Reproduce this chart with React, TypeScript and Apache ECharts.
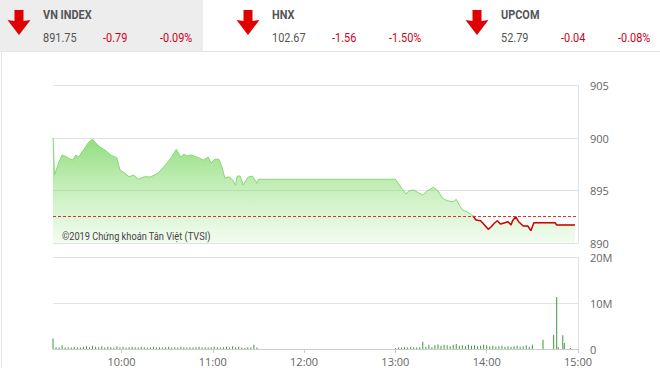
import React, { useEffect, useRef } from "react";
import * as echarts from "echarts";

// ---- Header data ----
const indexNames = ["VN INDEX", "HNX", "UPCOM"];
const indexValues = ["891.75", "102.67", "52.79"];
const indexChanges = ["-0.79", "-1.56", "-0.04"];
const indexPercents = ["-0.09%", "-1.50%", "-0.08%"];

// ---- Price series (VN-Index intraday) ----
const referencePrice = 892.54;
const priceTimes = [
  "09:15", "09:16", "09:19", "09:21", "09:24", "09:26", "09:28", "09:30", "09:32", "09:34",
  "09:36", "09:38", "09:41", "09:43", "09:46", "09:50", "09:53", "09:57", "09:59", "10:02",
  "10:05", "10:08", "10:11", "10:15", "10:19", "10:24", "10:26", "10:30", "10:33", "10:36",
  "10:39", "10:41", "10:43", "10:46", "10:50", "10:54", "10:57", "10:59", "11:01", "11:04",
  "11:06", "11:08", "11:11", "11:13", "11:15", "11:16", "11:18", "11:20", "11:23", "11:26",
  "11:29", "11:30", "13:00", "13:05", "13:07", "13:09", "13:12", "13:15", "13:18", "13:21",
  "13:25", "13:28", "13:31", "13:34", "13:38", "13:40", "13:42", "13:44", "13:47", "13:51",
  "13:53", "13:56", "13:58", "14:01", "14:03", "14:05", "14:07", "14:09", "14:12", "14:14",
  "14:16", "14:17", "14:19", "14:21", "14:24", "14:27", "14:29", "14:31", "14:45", "14:46",
  "14:58",
];
const priceValues = [
  900.03, 896.48, 897.74, 898.38, 898.19, 898.0, 897.9, 898.38, 898.19, 898.67,
  899.05, 899.52, 899.9, 899.52, 899.14, 898.76, 898.38, 898.1, 896.95, 896.67,
  896.31, 896.48, 896.07, 896.31, 896.29, 896.64, 896.95, 897.62, 898.19, 898.92,
  898.16, 898.48, 898.29, 898.38, 898.16, 897.9, 898.19, 897.59, 897.97, 897.97,
  897.27, 896.16, 896.31, 896.0, 895.52, 896.38, 896.38, 895.52, 896.26, 896.38,
  895.69, 896.07, 896.07, 895.05, 894.67, 894.98, 895.05, 894.79, 894.57, 894.98,
  895.3, 894.98, 894.26, 894.03, 893.93, 894.16, 893.62, 893.14, 892.98, 892.57,
  892.19, 892.12, 891.81, 891.3, 891.55, 891.88, 892.12, 891.81, 891.93, 892.03,
  891.71, 892.12, 892.5, 892.03, 891.62, 891.62, 891.17, 891.93, 891.93, 891.71,
  891.71,
];
const redStartTime = "13:51";

// ---- Volume series (millions of shares) ----
const volMorningStart = "09:15";
const volStepMinutes = 2;
const volMorning = [
  2.3, 0.4, 0.3, 0.8, 0.3, 0.4, 0.3, 0.5, 0.4, 0.3,
  0.5, 0.6, 0.4, 0.7, 0.5, 0.4, 0.6, 0.3, 0.5, 0.4,
  0.3, 0.6, 0.4, 0.5, 0.3, 0.4, 0.5, 0.4, 0.3, 0.5,
  0.4, 0.3, 0.4, 0.5, 0.3, 0.4, 0.3, 0.4, 0.5, 0.3,
  0.4, 0.3, 0.5, 0.4, 0.3, 0.4, 0.3, 0.4, 0.5, 0.3,
  0.4, 0.3, 0.4, 0.5, 0.4, 0.3, 0.4, 0.5, 0.3, 0.6,
  0.4, 0.5, 0.3, 0.2, 0.4, 0.3, 0.9, 0.3,
];
const volAfternoonStart = "13:00";
const volAfternoon = [
  0.2, 0.3, 0.3, 0.4, 0.3, 0.5, 0.4, 0.3, 0.4, 1.6,
  0.5, 0.9, 0.4, 0.8, 1.0, 0.7, 0.9, 0.8, 0.6, 0.9,
  1.1, 0.7, 0.8, 0.6, 0.9, 0.7, 0.8, 0.6, 0.7, 0.9,
  0.8, 0.6, 0.7, 0.5, 0.6, 0.7, 0.5, 0.6, 0.5, 0.6,
  0.7, 0.5, 0.6, 0.8, 0.5, 0.9,
];
const volLateTimes = ["14:37", "14:44", "14:46", "14:47", "14:50", "14:51", "14:55"];
const volLate = [2.0, 3.1, 11.3, 0.4, 3.0, 1.3, 0.2];

// ---- Axis ticks ----
const timeTicks = ["10:00", "11:00", "12:00", "13:00", "14:00", "15:00"];
const axisStart = "09:15";
const axisEnd = "15:00";

const toMin = (s: string) => {
  const [h, m] = s.split(":").map(Number);
  return h * 60 + m;
};
const fmtMin = (v: number) => {
  const h = Math.floor(v / 60);
  const m = Math.round(v % 60);
  return (h < 10 ? "0" : "") + h + ":" + (m < 10 ? "0" : "") + m;
};

const NARROW = "Roboto, 'Noto Sans', sans-serif";

export default function App() {
  const ref = useRef<HTMLDivElement>(null);

  useEffect(() => {
    if (!ref.current) return;
    const chart = echarts.init(ref.current, null, { renderer: "svg" });

    const priceData = priceTimes.map((t, i) => [toMin(t), priceValues[i]]);
    const redIdx = priceTimes.indexOf(redStartTime);
    const redData = priceData.slice(redIdx);

    const volData: number[][] = [];
    volMorning.forEach((v, i) => volData.push([toMin(volMorningStart) + i * volStepMinutes, v]));
    volAfternoon.forEach((v, i) => volData.push([toMin(volAfternoonStart) + i * volStepMinutes, v]));
    volLate.forEach((v, i) => volData.push([toMin(volLateTimes[i]), v]));

    const tickVals = timeTicks.map(toMin);

    const narrowText = (x: number, y: number, text: string, fill: string, font: string, z = 1) => ({
      type: "text", x, y, scaleX: 0.84, z,
      style: { text, fill, font, textVerticalAlign: "middle" },
      silent: true,
    });

    // header graphics
    const panelX = [0, 229, 458];
    const header: any[] = [
      { type: "rect", shape: { x: 0, y: 0, width: 203, height: 51 }, style: { fill: "#ededed" }, silent: true },
      { type: "line", shape: { x1: 0, y1: 51.5, x2: 660, y2: 51.5 }, style: { stroke: "#e4e4e4", lineWidth: 1 }, silent: true },
      { type: "line", shape: { x1: 1.5, y1: 51.5, x2: 1.5, y2: 368 }, style: { stroke: "#e4e4e4", lineWidth: 1 }, silent: true },
    ];
    indexNames.forEach((name, i) => {
      const ox = panelX[i];
      const ax = ox + 19;
      header.push({
        type: "polygon",
        shape: {
          points: [
            [ax - 4.5, 10], [ax + 4.5, 10], [ax + 4.5, 21], [ax + 11.5, 20],
            [ax, 35], [ax - 11.5, 20], [ax - 4.5, 21],
          ],
        },
        style: { fill: "#e00000" },
        silent: true,
      });
      header.push(narrowText(ox + 43, 15, name, "#555555", "bold 13px " + NARROW));
      header.push(narrowText(ox + 43, 38, indexValues[i], "#555555", "13px " + NARROW));
      header.push(narrowText(ox + 103, 38, indexChanges[i], "#d0021b", "13px " + NARROW));
      header.push(narrowText(ox + 160, 38, indexPercents[i], "#d0021b", "13px " + NARROW));
    });
    header.push(narrowText(62, 236, "©2019 Chứng khoán Tân Việt (TVSI)", "#444444", "11px " + NARROW, 10));

    const gridLineColor = "#e2e2e2";
    chart.setOption({
      animation: false,
      backgroundColor: "#ffffff",
      grid: [
        { left: 53, right: 82, top: 85.5, height: 157.5 },
        { left: 53, right: 82, top: 257, height: 92 },
      ],
      xAxis: [
        {
          type: "value", gridIndex: 0, min: toMin(axisStart), max: toMin(axisEnd),
          axisLine: { show: false }, axisTick: { show: false }, axisLabel: { show: false }, splitLine: { show: false },
        },
        {
          type: "value", gridIndex: 1, min: toMin(axisStart), max: toMin(axisEnd),
          axisLine: { show: true, lineStyle: { color: "#cccccc" } },
          axisTick: { show: true, length: 4, customValues: tickVals, lineStyle: { color: "#cccccc" } },
          axisLabel: {
            show: true, customValues: tickVals, formatter: (v: number) => fmtMin(v),
            color: "#666666", fontSize: 11, fontFamily: "'Open Sans', sans-serif", margin: 7,
          },
          splitLine: { show: false },
        },
      ],
      yAxis: [
        {
          type: "value", gridIndex: 0, position: "right", min: 890, max: 905, interval: 5,
          axisLine: { show: true, lineStyle: { color: gridLineColor } }, axisTick: { show: false },
          axisLabel: { color: "#666666", fontSize: 11, fontFamily: "'Open Sans', sans-serif", margin: 12 },
          splitLine: { show: true, lineStyle: { color: gridLineColor } },
        },
        {
          type: "value", gridIndex: 1, position: "right", min: 0, max: 20, interval: 10,
          axisLine: { show: true, lineStyle: { color: gridLineColor } }, axisTick: { show: false },
          axisLabel: {
            color: "#666666", fontSize: 11, fontFamily: "'Open Sans', sans-serif", margin: 12,
            formatter: (v: number) => (v === 0 ? "0" : v + "M"),
          },
          splitLine: { show: true, lineStyle: { color: gridLineColor } },
        },
      ],
      series: [
        {
          type: "line", xAxisIndex: 0, yAxisIndex: 0, data: priceData, showSymbol: false, symbol: "none",
          lineStyle: { color: "#86d874", width: 1 },
          areaStyle: {
            origin: "start",
            opacity: 1,
            color: new echarts.graphic.LinearGradient(0, 0, 0, 1, [
              { offset: 0, color: "rgba(112,212,88,0.78)" },
              { offset: 1, color: "rgba(150,228,128,0.12)" },
            ]),
          },
          markLine: {
            silent: true, symbol: ["none", "none"], label: { show: false },
            lineStyle: { color: "#e03030", type: [3, 2], width: 1 },
            data: [{ yAxis: referencePrice }],
          },
          z: 2,
        },
        {
          type: "line", xAxisIndex: 0, yAxisIndex: 0, data: redData, showSymbol: false, symbol: "none",
          lineStyle: { color: "#d40000", width: 1.5 },
          z: 3,
        },
        {
          type: "bar", xAxisIndex: 1, yAxisIndex: 1, data: volData, barWidth: 1,
          itemStyle: { color: "#3c9a3c" },
        },
      ],
      graphic: header,
    });

    return () => chart.dispose();
  }, []);

  return (
    <div
      ref={ref}
      style={{ position: "fixed", left: 0, top: 0, width: 660, height: 368, background: "#fff" }}
    />
  );
}
